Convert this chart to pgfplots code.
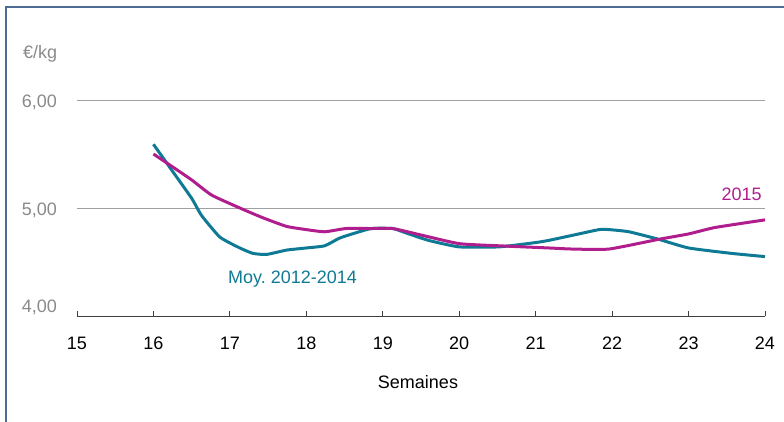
\documentclass[border=0pt]{standalone}
\usepackage{fontspec}
\setmainfont{Liberation Sans}
\usepackage{pgfplots}
\pgfplotsset{compat=1.18}
\frenchspacing
\definecolor{teal2}{HTML}{0E7A95}
\definecolor{mag}{HTML}{B01E8E}
\definecolor{frame}{HTML}{4E6B92}
\definecolor{gtxt}{HTML}{8A8A8A}
\definecolor{grd}{HTML}{A0A0A0}
\begin{document}
\begin{tikzpicture}[x=1pt,y=1pt]
\path[use as bounding box] (-77,-105) rectangle (707,316);
\draw[frame, line width=2pt] (-70.5,-106) -- (-70.5,308.5) -- (708,308.5);
\begin{axis}[
  at={(0,0)}, anchor=south west,
  scale only axis, width=688pt, height=216pt,
  xmin=15, xmax=24, ymin=4, ymax=6,
  clip=false,
  font=\fontsize{18}{21}\selectfont,
  axis x line*=bottom,
  axis y line*=left,
  y axis line style={draw=none},
  x axis line style={draw=black!75, line width=0.9pt},
  xtick={15,...,24},
  tick align=inside,
  major tick length=5pt,
  xtick style={draw=black!75, line width=0.9pt},
  ytick style={draw=none},
  ytick={5,6},
  yticklabels={{5,00},{6,00}},
  ymajorgrids,
  major grid style={draw=grd, line width=0.9pt},
  xticklabel style={anchor=base, inner sep=0pt, yshift=-33pt, text=black},
  yticklabel style={anchor=base east, inner sep=0pt, xshift=-20pt, yshift=-7pt, text=gtxt},
  /pgf/number format/assume math mode=true,
  xlabel={Semaines},
  xlabel style={at={(axis description cs:0.5,0)}, anchor=base, inner sep=0pt, yshift=-72pt, xshift=-3pt},
]
\addplot[teal2, line width=3pt, line join=round, smooth, tension=0.3] coordinates {
(16.0,5.59) (16.21,5.38) (16.5,5.09) (16.63,4.93) (16.87,4.73) (17.13,4.63)
(17.30,4.58) (17.48,4.57) (17.74,4.61) (18.0,4.63) (18.24,4.65) (18.43,4.72)
(18.6,4.76) (18.85,4.81) (19.13,4.81) (19.3,4.77) (19.6,4.70) (20.0,4.64)
(20.52,4.64) (21.0,4.68) (21.17,4.70) (21.5,4.75) (21.83,4.80) (21.96,4.80)
(22.22,4.78) (22.61,4.71) (23.0,4.63) (23.56,4.58) (24.0,4.55)
};
\addplot[mag, line width=3pt, line join=round, smooth, tension=0.3] coordinates {
(16.0,5.50) (16.21,5.40) (16.5,5.26) (16.76,5.12) (17.13,5.00) (17.43,4.91)
(17.74,4.83) (18.0,4.80) (18.24,4.78) (18.52,4.81) (18.85,4.81) (19.13,4.81)
(19.5,4.75) (20.0,4.67) (20.52,4.65) (21.17,4.63) (21.48,4.62) (21.96,4.62)
(22.61,4.71) (23.0,4.76) (23.35,4.82) (24.0,4.89)
};
\node[anchor=base east, inner sep=0pt, text=gtxt] at ([xshift=-20pt]axis cs:15,4.037) {4,00};
\node[anchor=base west, inner sep=0pt, text=teal2] at (axis cs:16.975,4.305) {Moy. 2012-2014};
\node[anchor=base east, inner sep=0pt, text=mag] at (axis cs:23.96,5.074) {2015};
\end{axis}
\node[anchor=base west, inner sep=0pt, text=gtxt, font=\fontsize{18}{21}\selectfont] at (-54,257) {€/kg};
\end{tikzpicture}
\end{document}
